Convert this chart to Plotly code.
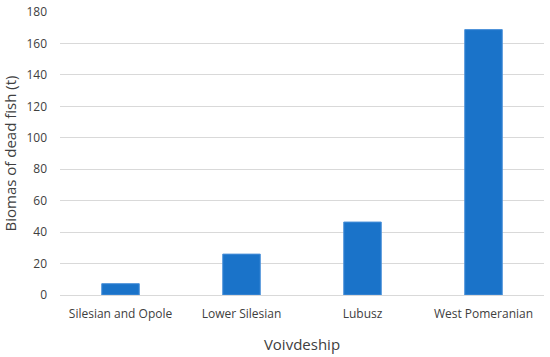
import plotly.graph_objects as go

categories = ["Silesian and Opole", "Lower Silesian", "Lubusz", "West Pomeranian"]
biomass = [7.2, 26, 46.4, 168.8]
y_ticks = [0, 20, 40, 60, 80, 100, 120, 140, 160, 180]

fig = go.Figure(go.Bar(
    x=categories, y=biomass,
    marker=dict(color="#1a73c9", line=dict(color="#4a90d9", width=1)),
))

font_family = "Open Sans, Liberation Sans, sans-serif"
fig.update_layout(
    width=550, height=357,
    margin=dict(l=60, r=6, t=12, b=62, autoexpand=False),
    paper_bgcolor="white", plot_bgcolor="white",
    bargap=0.69,
    showlegend=False,
    font=dict(family=font_family, color="#404040", size=12),
)
fig.update_xaxes(
    automargin=False,
    showgrid=False, showline=True, linecolor="#d9d9d9", linewidth=1,
    ticks="", ticklabelstandoff=8, tickfont=dict(size=12, color="#404040"),
    title=dict(text="Voivdeship", font=dict(size=15, color="#404040"), standoff=18),
)
fig.update_yaxes(
    automargin=False,
    range=[0, 180], tickvals=y_ticks, showgrid=True, gridcolor="#d9d9d9", gridwidth=1,
    zeroline=False, ticks="", ticklabelstandoff=12,
    tickfont=dict(size=12, color="#404040"),
    title=dict(text="Biomas of dead fish (t)", font=dict(size=15, color="#404040"), standoff=8),
)
fig.write_html(
    "out.html",
    config={"displayModeBar": False},
    post_script="document.body.style.margin='0';document.body.style.overflow='hidden';",
)
